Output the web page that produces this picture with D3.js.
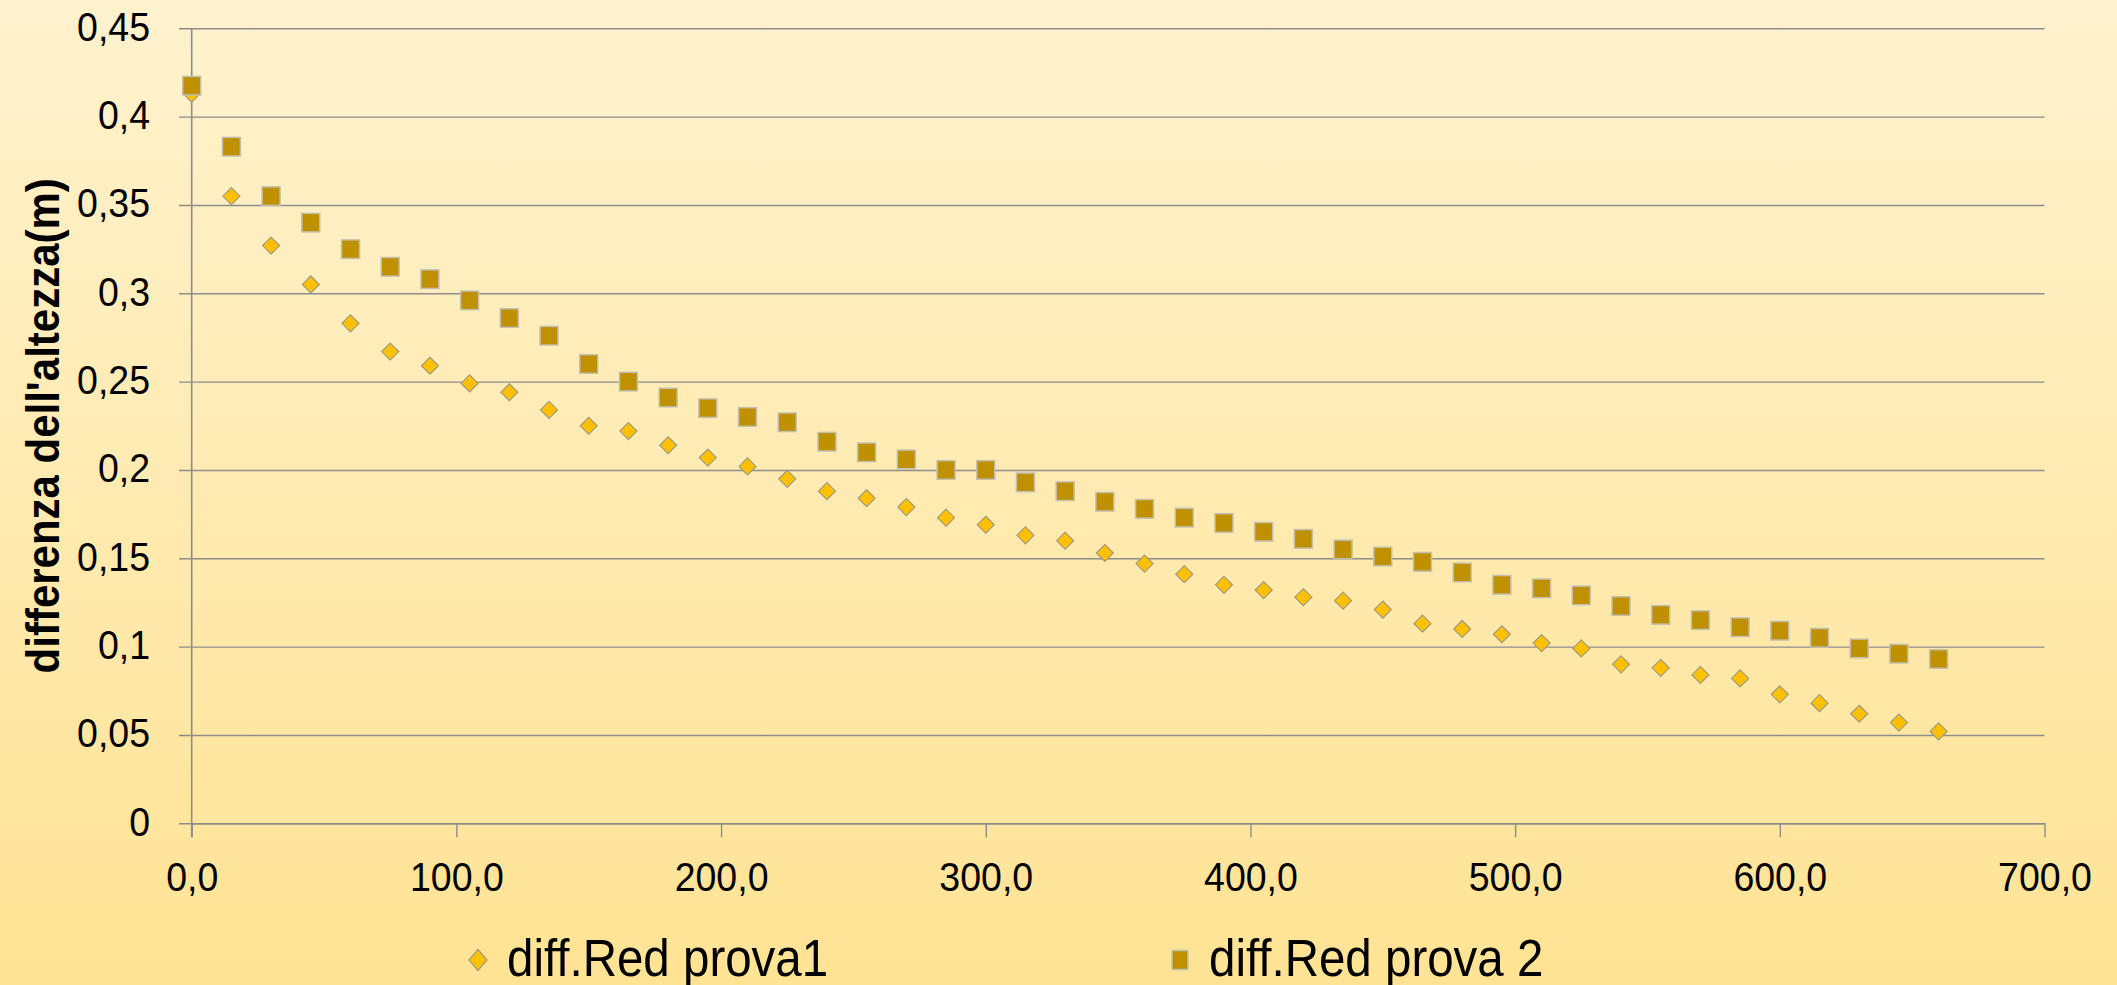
<!DOCTYPE html>
<html>
<head>
<meta charset="utf-8">
<script src="https://cdn.jsdelivr.net/npm/d3@7"></script>
<style>
  html, body { margin: 0; padding: 0; }
  body { width: 2117px; height: 985px; overflow: hidden; }
  svg { display: block; }
</style>
</head>
<body>
<svg id="chart" width="2117" height="985"></svg>
<script>
const xValues = [0,15,30,45,60,75,90,105,120,135,150,165,180,195,210,225,240,255,270,285,300,315,330,345,360,375,390,405,420,435,450,465,480,495,510,525,540,555,570,585,600,615,630,645,660];
const prova1 = [0.413,0.355,0.327,0.305,0.283,0.267,0.259,0.249,0.244,0.234,0.225,0.222,0.214,0.207,0.202,0.195,0.188,0.184,0.179,0.173,0.169,0.163,0.160,0.153,0.147,0.141,0.135,0.132,0.128,0.126,0.121,0.113,0.110,0.107,0.102,0.099,0.090,0.088,0.084,0.082,0.073,0.068,0.062,0.057,0.052];
const prova2 = [0.4175,0.383,0.355,0.340,0.325,0.315,0.308,0.296,0.286,0.276,0.260,0.250,0.241,0.235,0.230,0.227,0.216,0.210,0.206,0.200,0.200,0.193,0.188,0.182,0.178,0.173,0.170,0.165,0.161,0.155,0.151,0.148,0.142,0.135,0.133,0.129,0.123,0.118,0.115,0.111,0.109,0.105,0.099,0.096,0.093];
const seriesNames = ["diff.Red prova1", "diff.Red prova 2"];
const yTicks = [0,0.05,0.1,0.15,0.2,0.25,0.3,0.35,0.4,0.45];
const yTickLabels = ["0","0,05","0,1","0,15","0,2","0,25","0,3","0,35","0,4","0,45"];
const xTicks = [0,100,200,300,400,500,600,700];
const xTickLabels = ["0,0","100,0","200,0","300,0","400,0","500,0","600,0","700,0"];
const yTitle = "differenza dell'altezza(m)";

(function () {
const svg = d3.select("#chart");
const W = 2117, H = 985;
const pLeft = 191.7, pRight = 2044.5, pTop = 28.3, pBottom = 823.3;
const font = "'Liberation Sans', Arial, sans-serif";
const tickStretch = 1.06, legendStretch = 1.08;

// background gradient
const defs = svg.append("defs");
const grad = defs.append("linearGradient").attr("id", "bg").attr("x1", 0).attr("y1", 0).attr("x2", 0).attr("y2", 1);
grad.append("stop").attr("offset", "0%").attr("stop-color", "#FFF2CE");
grad.append("stop").attr("offset", "100%").attr("stop-color", "#FFE394");
svg.append("rect").attr("width", W).attr("height", H).attr("fill", "url(#bg)");

const x = d3.scaleLinear().domain([0, 700]).range([pLeft, pRight]);
const y = d3.scaleLinear().domain([0, 0.45]).range([pBottom, pTop]);
const pw = pRight - pLeft;

// Y axis with gridlines
const yAxis = d3.axisLeft(y)
  .tickValues(yTicks)
  .tickSizeInner(-pw)
  .tickSizeOuter(0)
  .tickPadding(0)
  .tickFormat((d, i) => yTickLabels[i]);
const gy = svg.append("g").attr("transform", `translate(${pLeft},0)`).call(yAxis);
gy.select(".domain").remove();
gy.selectAll(".tick line")
  .attr("x1", -12.7).attr("x2", pw)
  .attr("stroke", "#8C8C8C").attr("stroke-width", 1.4);
gy.selectAll(".tick text")
  .attr("x", -41.7).attr("dy", null).attr("y", 12 / tickStretch)
  .attr("transform", `scale(1,${tickStretch})`)
  .attr("font-family", font).attr("font-size", 37.5).attr("fill", "#000")
  .attr("text-anchor", "end");

// X axis
const xAxis = d3.axisBottom(x)
  .tickValues(xTicks)
  .tickSizeInner(14)
  .tickSizeOuter(0)
  .tickPadding(0)
  .tickFormat((d, i) => xTickLabels[i]);
const gx = svg.append("g").attr("transform", `translate(0,${pBottom})`).call(xAxis);
gx.select(".domain").attr("stroke", "#8C8C8C").attr("stroke-width", 1.6);
gx.selectAll(".tick line").attr("stroke", "#8C8C8C").attr("stroke-width", 1.4);
gx.selectAll(".tick text")
  .attr("y", 68 / tickStretch).attr("dy", null)
  .attr("transform", `scale(1,${tickStretch})`)
  .attr("font-family", font).attr("font-size", 37.5).attr("fill", "#000");

// vertical axis line
svg.append("line")
  .attr("x1", x(0)).attr("x2", x(0))
  .attr("y1", y(0.45)).attr("y2", y(0) + 14)
  .attr("stroke", "#8C8C8C").attr("stroke-width", 1.6);

// Y title
svg.append("text")
  .attr("transform", `translate(59,${(pTop + pBottom) / 2}) rotate(-90) scale(1,1.1)`)
  .attr("text-anchor", "middle")
  .attr("font-family", font).attr("font-size", 42).attr("font-weight", "bold")
  .attr("fill", "#000")
  .text(yTitle);

// data
const data1 = xValues.map((v, i) => ({ x: v, y: prova1[i] }));
const data2 = xValues.map((v, i) => ({ x: v, y: prova2[i] }));

const diamond = "M0,-8.5L8.5,0L0,8.5L-8.5,0Z";

svg.append("g").selectAll("path").data(data1).join("path")
  .attr("d", diamond)
  .attr("transform", d => `translate(${x(d.x)},${y(d.y)})`)
  .attr("fill", "#FFC000").attr("stroke", "#A09A80").attr("stroke-width", 1.2);

svg.append("g").selectAll("rect").data(data2).join("rect")
  .attr("x", d => x(d.x) - 9).attr("y", d => y(d.y) - 9.3)
  .attr("width", 18).attr("height", 18.6)
  .attr("fill", "#BF9000").attr("stroke", "#C4C0B0").attr("stroke-width", 1.5);

// legend
const lg = svg.append("g");
lg.append("path").attr("d", "M0,-10.5L9,0L0,10.5L-9,0Z").attr("transform", "translate(478,960)")
  .attr("fill", "#FFC000").attr("stroke", "#A09A80").attr("stroke-width", 1.2);
lg.append("text").attr("x", 507).attr("y", 976 / legendStretch)
  .attr("transform", `scale(1,${legendStretch})`)
  .attr("font-family", font).attr("font-size", 47.5).attr("fill", "#000")
  .text(seriesNames[0]);
lg.append("rect").attr("x", 1172).attr("y", 950.5).attr("width", 16).attr("height", 19)
  .attr("fill", "#BF9000").attr("stroke", "#C4C0B0").attr("stroke-width", 1.5);
lg.append("text").attr("x", 1209).attr("y", 976 / legendStretch)
  .attr("transform", `scale(1,${legendStretch})`)
  .attr("font-family", font).attr("font-size", 47.5).attr("fill", "#000")
  .text(seriesNames[1]);
})();
</script>
</body>
</html>
